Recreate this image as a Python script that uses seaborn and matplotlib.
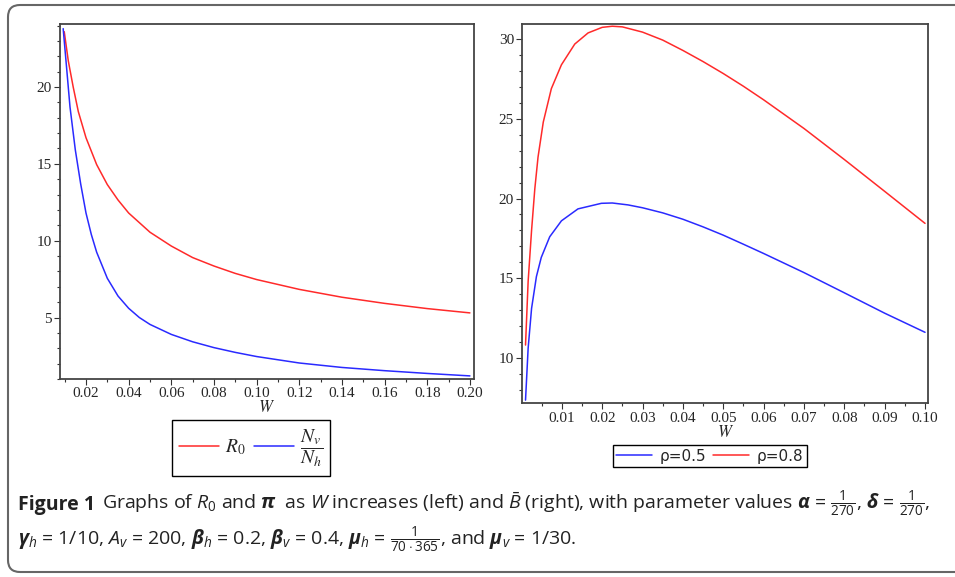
import pandas as pd
import matplotlib.pyplot as plt
import matplotlib.transforms as mtransforms
from matplotlib.patches import FancyBboxPatch
from matplotlib.ticker import MultipleLocator, FormatStrFormatter
import seaborn as sns

# left panel: R0 and Nv/Nh against W
w_r0 = [0.0098, 0.0117, 0.014, 0.0164, 0.02, 0.025, 0.03, 0.035, 0.04, 0.05, 0.06,
        0.07, 0.08, 0.09, 0.10, 0.12, 0.14, 0.16, 0.18, 0.20]
r0 = [23.6, 21.7, 20.0, 18.4, 16.7, 14.95, 13.65, 12.65, 11.8, 10.55, 9.65,
      8.9, 8.35, 7.87, 7.47, 6.83, 6.32, 5.92, 5.58, 5.3]
w_ratio = [0.0093, 0.011, 0.0125, 0.015, 0.0175, 0.02, 0.0225, 0.025, 0.03, 0.035, 0.04,
           0.045, 0.05, 0.06, 0.07, 0.08, 0.09, 0.10, 0.12, 0.14, 0.16, 0.18, 0.20]
ratio = [23.8, 21.1, 18.7, 15.9, 13.7, 11.8, 10.4, 9.25, 7.55, 6.4, 5.6,
         5.0, 4.55, 3.9, 3.42, 3.04, 2.73, 2.46, 2.04, 1.75, 1.54, 1.36, 1.2]

# right panel: B-bar against W for two rho values
w_rho5 = [0.0010, 0.00165, 0.0025, 0.0037, 0.0049, 0.007, 0.0099, 0.014, 0.0198, 0.0225,
          0.0264, 0.03, 0.035, 0.04, 0.045, 0.05, 0.055, 0.06, 0.07, 0.08, 0.09, 0.10]
rho5 = [7.34, 10.6, 13.1, 15.1, 16.3, 17.6, 18.6, 19.35, 19.7, 19.72,
        19.6, 19.42, 19.1, 18.7, 18.22, 17.7, 17.13, 16.55, 15.35, 14.08, 12.8, 11.6]
w_rho8 = [0.0010, 0.00165, 0.0025, 0.0033, 0.0041, 0.0054, 0.0074, 0.0099, 0.0132, 0.0165,
          0.02, 0.0225, 0.025, 0.03, 0.035, 0.04, 0.045, 0.05, 0.055, 0.06, 0.07, 0.08,
          0.09, 0.10]
rho8 = [10.8, 14.8, 18.0, 20.6, 22.6, 24.8, 26.9, 28.4, 29.7, 30.4,
        30.75, 30.82, 30.78, 30.45, 29.95, 29.3, 28.6, 27.85, 27.05, 26.2, 24.4, 22.45,
        20.45, 18.44]

RED = "#ff2a2a"
BLUE = "#2a2aff"

sns.set_style("ticks")
plt.rcParams["font.family"] = ["Liberation Serif", "DejaVu Serif"]
plt.rcParams["mathtext.fontset"] = "custom"
plt.rcParams["mathtext.rm"] = "Open Sans"
plt.rcParams["mathtext.it"] = "Open Sans:italic"
plt.rcParams["mathtext.bf"] = "Open Sans:bold"
plt.rcParams["mathtext.bfit"] = "Open Sans:bold:italic"

fig = plt.figure(figsize=(9.55, 5.77), dpi=100)
ax1 = fig.add_axes([0.0628, 0.3432, 0.4335, 0.6152])
ax2 = fig.add_axes([0.5469, 0.3010, 0.4251, 0.6574])

df_left = pd.concat([
    pd.DataFrame({"W": w_r0, "value": r0, "series": "R0"}),
    pd.DataFrame({"W": w_ratio, "value": ratio, "series": "ratio"}),
])
sns.lineplot(data=df_left, x="W", y="value", hue="series",
             palette={"R0": RED, "ratio": BLUE}, ax=ax1, legend=False, linewidth=1.1)

df_right = pd.concat([
    pd.DataFrame({"W": w_rho5, "value": rho5, "series": "rho5"}),
    pd.DataFrame({"W": w_rho8, "value": rho8, "series": "rho8"}),
])
sns.lineplot(data=df_right, x="W", y="value", hue="series",
             palette={"rho5": BLUE, "rho8": RED}, ax=ax2, legend=False, linewidth=1.1)

ax1.set_xlim(0.0078, 0.2019)
ax1.set_ylim(1.0, 24.1)
ax1.xaxis.set_major_locator(MultipleLocator(0.02))
ax1.xaxis.set_minor_locator(MultipleLocator(0.01))
ax1.yaxis.set_major_locator(MultipleLocator(5))
ax1.yaxis.set_minor_locator(MultipleLocator(1))

ax2.set_xlim(0.0002, 0.1008)
ax2.set_ylim(7.14, 30.96)
ax2.xaxis.set_major_locator(MultipleLocator(0.01))
ax2.xaxis.set_minor_locator(MultipleLocator(0.005))
ax2.yaxis.set_major_locator(MultipleLocator(5))
ax2.yaxis.set_minor_locator(MultipleLocator(1))

for ax in (ax1, ax2):
    ax.xaxis.set_major_formatter(FormatStrFormatter("%.2f"))
    ax.yaxis.set_major_formatter(FormatStrFormatter("%d"))
    ax.tick_params(which="major", direction="out", length=4, width=0.8,
                   labelsize=11, pad=2, color="#333333")
    ax.tick_params(which="minor", direction="out", length=2.5, width=0.8, color="#333333")
    for sp in ax.spines.values():
        sp.set_visible(True)
        sp.set_color("#444444")
        sp.set_linewidth(1.3)
    ax.set_ylabel("")
    ax.set_xlabel("$W$", fontsize=12, labelpad=0, math_fontfamily="stix")

# legends
h = ax1.get_lines()
leg1 = fig.legend([h[0], h[1]], ["$R_0$", r"$\dfrac{N_v}{N_h}$"], ncol=2,
                  loc="center", bbox_to_anchor=(251 / 955, 1 - 448 / 577),
                  handlelength=2.1, columnspacing=0.4, handletextpad=0.3,
                  fancybox=False, edgecolor="black", framealpha=1,
                  borderpad=0.35, borderaxespad=0, prop={"size": 14})
leg1.get_frame().set_linewidth(1.0)
for t in leg1.get_texts():
    t.set_math_fontfamily("stix")

h2 = ax2.get_lines()
leg2 = fig.legend([h2[0], h2[1]], ["ρ=0.5", "ρ=0.8"], ncol=2,
                  loc="center", bbox_to_anchor=(710 / 955, 1 - 456 / 577),
                  handlelength=2.3, columnspacing=0.45, handletextpad=0.55,
                  fancybox=False, edgecolor="black", framealpha=1,
                  borderpad=0.2, borderaxespad=0, prop={"family": "DejaVu Sans", "size": 11})
leg2.get_frame().set_linewidth(1.0)

# caption
cap = {"family": "Open Sans", "color": "#222222", "fontsize": 14}
head = fig.text(18 / 955, 1 - 510 / 577, "Figure 1", fontweight="bold", va="baseline", **cap)
fig.canvas.draw()
x_after = head.get_window_extent().x1 + 7
fig.text(x_after / 955, 1 - 510 / 577,
         r"Graphs of $R_0$ and $\boldsymbol{\pi}$  as $W$ increases (left) and $\bar{B}$ (right), "
         r"with parameter values $\boldsymbol{\alpha}$ = $\frac{1}{270}$, $\boldsymbol{\delta}$ = $\frac{1}{270}$,",
         va="baseline", **cap)
fig.text(18 / 955, 1 - 546 / 577,
         r"$\boldsymbol{\gamma}_h$ = 1/10, $A_v$ = 200, $\boldsymbol{\beta}_h$ = 0.2, "
         r"$\boldsymbol{\beta}_v$ = 0.4, $\boldsymbol{\mu}_h$ = $\frac{1}{70\cdot365}$, and $\boldsymbol{\mu}_v$ = 1/30.",
         va="baseline", **cap)

# rounded figure frame
frame = FancyBboxPatch((8, 5), 960, 567, boxstyle="round,pad=0,rounding_size=12",
                       transform=mtransforms.IdentityTransform(), fill=False,
                       edgecolor="#666666", linewidth=1.5, clip_on=False)
fig.patches.append(frame)

fig.savefig("out.png", dpi=100)
